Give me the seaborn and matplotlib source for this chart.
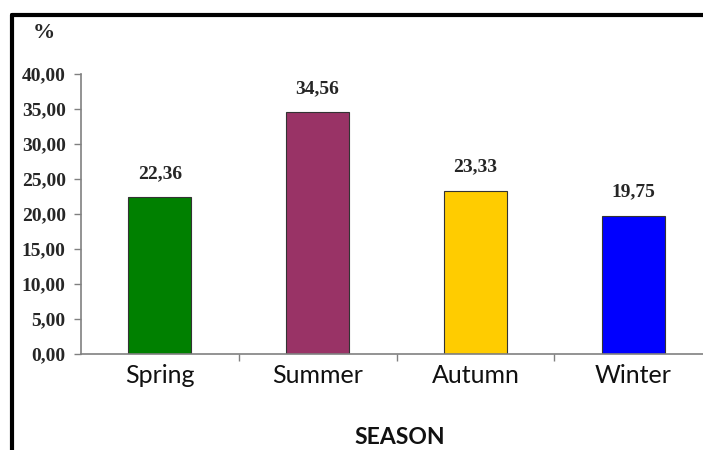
import matplotlib
matplotlib.use("Agg")
import matplotlib.pyplot as plt
import seaborn as sns
import pandas as pd
from matplotlib.ticker import FuncFormatter, FixedLocator
from matplotlib.lines import Line2D

seasons = ["Spring", "Summer", "Autumn", "Winter"]
values = [22.36, 34.56, 23.33, 19.75]
colors = ["#008000", "#993366", "#FFCC00", "#0000FF"]
yticks = [0, 5, 10, 15, 20, 25, 30, 35, 40]

df = pd.DataFrame({"season": seasons, "value": values})

sns.set_style("white")
fig = plt.figure(figsize=(7.03, 4.5), dpi=100)
ax = fig.add_axes([81/703, 1-354/450, (712-81)/703, (354-74)/450])

sns.barplot(data=df, x="season", y="value", hue="season", palette=colors,
            width=0.4, edgecolor="#333333", linewidth=0.8, legend=False, ax=ax,
            saturation=1)

ax.set_ylim(0, 40)
ax.set_xlim(-0.5, 3.5)
ax.yaxis.set_major_locator(FixedLocator(yticks))
ax.yaxis.set_major_formatter(FuncFormatter(lambda v, p: f"{v:.2f}".replace(".", ",")))
for lab in ax.get_yticklabels():
    lab.set_fontfamily("Liberation Serif")
    lab.set_fontweight("bold")
    lab.set_fontsize(14)
ax.tick_params(axis="y", which="major", direction="out", length=5, width=1,
               color="#808080", left=True, pad=6)
ax.tick_params(axis="x", which="major", length=0, pad=7)
ax.set_xticks(range(len(seasons)))
ax.set_xticklabels(seasons, fontfamily="Lato", fontsize=18, color="#111111")
ax.xaxis.set_minor_locator(FixedLocator([0.5, 1.5, 2.5]))
ax.tick_params(axis="x", which="minor", direction="out", length=5, width=1,
               color="#808080", bottom=True)

for side in ["top", "right"]:
    ax.spines[side].set_visible(False)
for side in ["left", "bottom"]:
    ax.spines[side].set_color("#808080")
    ax.spines[side].set_linewidth(1.2)

ax.set_xlabel("")
ax.set_ylabel("")

for i, v in enumerate(values):
    ax.annotate(f"{v:.2f}".replace(".", ","), (i, v), xytext=(0, 11),
                textcoords="offset points", ha="center", va="bottom",
                fontfamily="Liberation Serif", fontweight="bold", fontsize=14)

fig.text(44/703, 1-33/450, "%", ha="center", va="center",
         fontfamily="Liberation Serif", fontweight="bold", fontsize=16)
fig.text(400/703, 1-437/450, "SEASON", ha="center", va="center",
         fontfamily="Lato", fontweight="bold", fontsize=16.5, color="#111111")

# frame lines
fig.add_artist(Line2D([12/703, 1.0], [1-15/450, 1-15/450], color="black", lw=3,
                      transform=fig.transFigure))
fig.add_artist(Line2D([12/703, 12/703], [1-15/450, 0.0], color="black", lw=3,
                      transform=fig.transFigure))

fig.savefig("out.png", dpi=100)
